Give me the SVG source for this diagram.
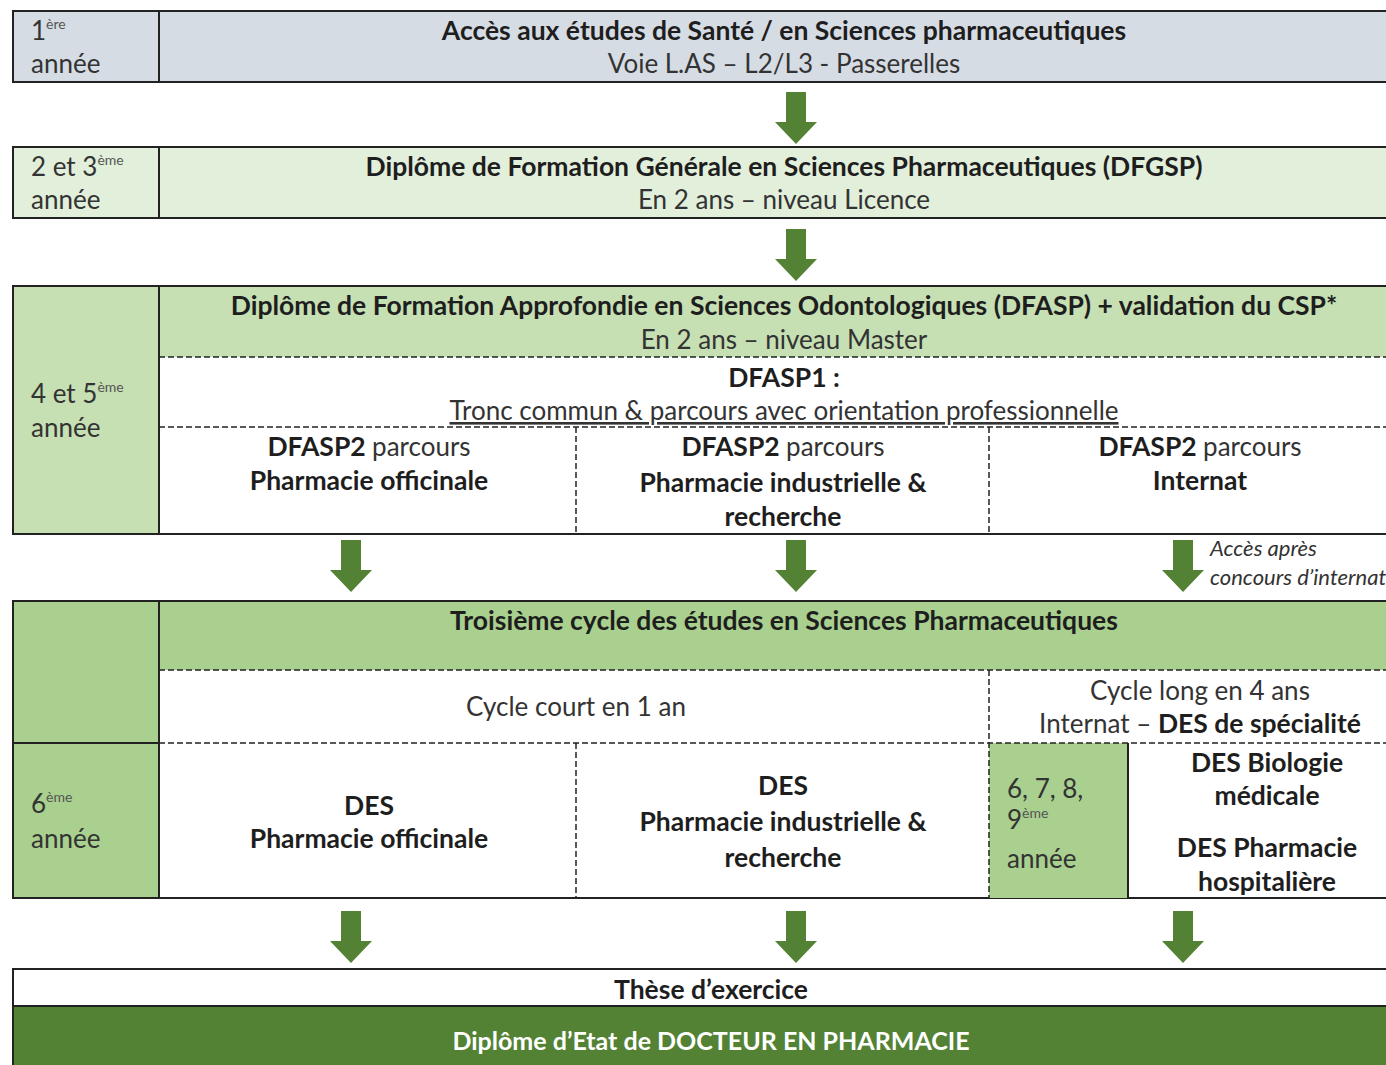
<svg xmlns="http://www.w3.org/2000/svg" width="1386" height="1065" viewBox="0 0 1386 1065">
<style>
text{font-family:Lato,"Open Sans","Liberation Sans",sans-serif;font-size:26px;fill:#1e1e1e}
.c{text-anchor:middle}
.b{font-weight:bold;font-size:26.5px}
.r{font-weight:normal;font-size:26px;fill:#333}
.sup{font-size:14px;fill:#555}
.solid{stroke:#222;stroke-width:2}
.dash{fill:none;stroke:#222;stroke-width:1.5;stroke-dasharray:6 3}
.it{font-style:italic;font-size:22px;fill:#333}
.arrow{fill:#548235}
</style>
<defs>
<path id="arr" d="M-10,0 H10 V30 H21 L0,52 L-21,30 H-10 Z"/>
</defs>

<g id="row1">
<rect x="13" y="11" width="1400" height="71" fill="#d6dce4" class="solid"/>
<line x1="159" y1="11" x2="159" y2="82" class="solid"/>
<text x="31" y="40" class="r">1<tspan class="sup" dy="-11">ère</tspan></text>
<text x="31" y="73" class="r">année</text>
<text x="784" y="40" class="c b">Accès aux études de Santé / en Sciences pharmaceutiques</text>
<text x="784" y="73" class="c r">Voie L.AS – L2/L3 - Passerelles</text>
</g>

<g id="row2">
<rect x="13" y="147" width="1400" height="71" fill="#e2efda" class="solid"/>
<line x1="159" y1="147" x2="159" y2="218" class="solid"/>
<text x="31" y="176" class="r">2 et 3<tspan class="sup" dy="-11">ème</tspan></text>
<text x="31" y="209" class="r">année</text>
<text x="784" y="176" class="c b">Diplôme de Formation Générale en Sciences Pharmaceutiques (DFGSP)</text>
<text x="784" y="209" class="c r">En 2 ans – niveau Licence</text>
</g>

<g id="row3">
<rect x="13" y="286" width="1400" height="248" fill="#ffffff" class="solid"/>
<rect x="14" y="287" width="145" height="246" fill="#c6e0b4"/>
<rect x="160" y="287" width="1253" height="70" fill="#c6e0b4"/>
<line x1="159" y1="286" x2="159" y2="534" class="solid"/>
<line x1="159" y1="357" x2="1413" y2="357" class="dash"/>
<line x1="159" y1="427" x2="1413" y2="427" class="dash"/>
<line x1="576" y1="427" x2="576" y2="534" class="dash"/>
<line x1="989" y1="427" x2="989" y2="534" class="dash"/>
<text x="31" y="403" class="r">4 et 5<tspan class="sup" dy="-11">ème</tspan></text>
<text x="31" y="437" class="r">année</text>
<text x="784" y="315" class="c b">Diplôme de Formation Approfondie en Sciences Odontologiques (DFASP) + validation du CSP*</text>
<text x="784" y="349" class="c r">En 2 ans – niveau Master</text>
<text x="784" y="387" class="c b">DFASP1 :</text>
<text x="784" y="420" class="c r" text-decoration="underline">Tronc commun &amp; parcours avec orientation professionnelle</text>
<text x="369" y="456" class="c b">DFASP2 <tspan class="r">parcours</tspan></text>
<text x="369" y="490" class="c b">Pharmacie officinale</text>
<text x="783" y="456" class="c b">DFASP2 <tspan class="r">parcours</tspan></text>
<text x="783" y="492" class="c b">Pharmacie industrielle &amp;</text>
<text x="783" y="526" class="c b">recherche</text>
<text x="1200" y="456" class="c b">DFASP2 <tspan class="r">parcours</tspan></text>
<text x="1200" y="490" class="c b">Internat</text>
</g>

<g id="row4">
<rect x="13" y="601" width="1400" height="297" fill="#ffffff" class="solid"/>
<rect x="14" y="602" width="145" height="295" fill="#a9d08e"/>
<rect x="160" y="602" width="1253" height="68" fill="#a9d08e"/>
<rect x="989" y="743" width="139" height="155" fill="#a9d08e"/>
<line x1="159" y1="601" x2="159" y2="898" class="solid"/>
<line x1="13" y1="743" x2="159" y2="743" class="solid"/>
<line x1="1128" y1="743" x2="1128" y2="898" class="solid"/>
<line x1="159" y1="670" x2="1413" y2="670" class="dash"/>
<line x1="159" y1="743" x2="1413" y2="743" class="dash"/>
<line x1="989" y1="670" x2="989" y2="898" class="dash"/>
<line x1="576" y1="743" x2="576" y2="898" class="dash"/>
<text x="784" y="630" class="c b">Troisième cycle des études en Sciences Pharmaceutiques</text>
<text x="576" y="716" class="c r">Cycle court en 1 an</text>
<text x="1200" y="700" class="c r">Cycle long en 4 ans</text>
<text x="1200" y="733" class="c r">Internat – <tspan class="b" style="fill:#1e1e1e">DES de spécialité</tspan></text>
<text x="31" y="813" class="r">6<tspan class="sup" dy="-11">ème</tspan></text>
<text x="31" y="848" class="r">année</text>
<text x="369" y="815" class="c b">DES</text>
<text x="369" y="848" class="c b">Pharmacie officinale</text>
<text x="783" y="795" class="c b">DES</text>
<text x="783" y="831" class="c b">Pharmacie industrielle &amp;</text>
<text x="783" y="867" class="c b">recherche</text>
<text x="1007" y="798" class="r">6, 7, 8,</text>
<text x="1007" y="829" class="r">9<tspan class="sup" dy="-11">ème</tspan></text>
<text x="1007" y="868" class="r">année</text>
<text x="1267" y="772" class="c b">DES Biologie</text>
<text x="1267" y="805" class="c b">médicale</text>
<text x="1267" y="857" class="c b">DES Pharmacie</text>
<text x="1267" y="891" class="c b">hospitalière</text>
</g>

<g id="row5">
<rect x="13" y="969" width="1400" height="37" fill="#ffffff" class="solid"/>
<text x="711" y="999" class="c b">Thèse d’exercice</text>
</g>

<g id="row6">
<rect x="13" y="1006" width="1400" height="70" fill="#548235" class="solid"/>
<text x="711" y="1050" class="c b" style="fill:#ffffff;font-size:25px">Diplôme d’Etat de DOCTEUR EN PHARMACIE</text>
</g>

<g id="connectors">
<use href="#arr" x="796" y="92" class="arrow"/>
<use href="#arr" x="796" y="229" class="arrow"/>
<use href="#arr" x="351" y="540" class="arrow"/>
<use href="#arr" x="796" y="540" class="arrow"/>
<use href="#arr" x="1183" y="540" class="arrow"/>
<use href="#arr" x="351" y="911" class="arrow"/>
<use href="#arr" x="796" y="911" class="arrow"/>
<use href="#arr" x="1183" y="911" class="arrow"/>
<text x="1210" y="556" class="it">Accès après</text>
<text x="1210" y="585" class="it">concours d’internat</text>
</g>
</svg>
